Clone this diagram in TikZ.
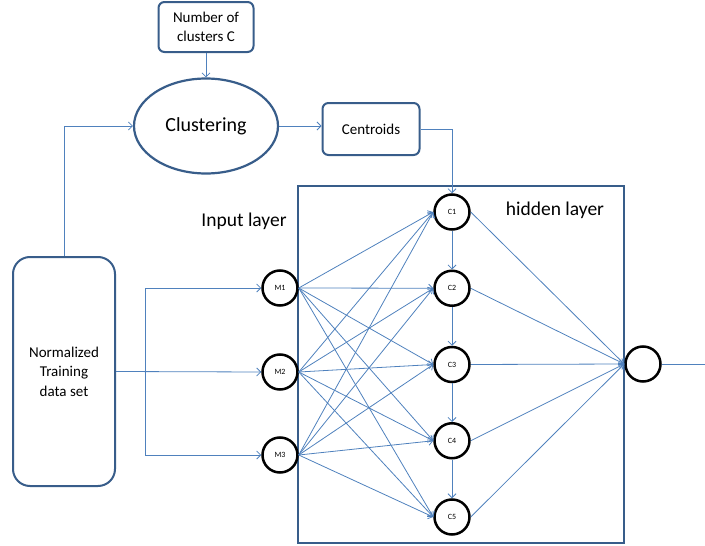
\documentclass[tikz,border=0pt]{standalone}
\usepackage{fontspec}
\setmainfont{Carlito}
\usetikzlibrary{positioning, arrows.meta, shapes.geometric}

\definecolor{boxblue}{RGB}{56,93,138}
\definecolor{lineblue}{RGB}{79,129,189}

\tikzset{
	flowbox/.style={draw=boxblue, line width=2pt, rounded corners=6pt, fill=white,
		align=center, inner sep=0pt, font=\fontsize{15}{19.5}\selectfont},
	neuron/.style={draw=black, circle, line width=2.5pt, minimum size=35pt,
		inner sep=0pt, fill=white, font=\fontsize{8}{9}\selectfont},
	link/.style={draw=lineblue, line width=0.8pt, -{Straight Barb[length=4pt, width=8pt]}},
	plain link/.style={draw=lineblue, line width=0.8pt},
	layer label/.style={font=\fontsize{19.5}{22}\selectfont, inner sep=0pt},
}

\begin{document}
\begin{tikzpicture}[x=1pt, y=-1pt]

		\useasboundingbox (0,0) rectangle (705,546);

		% Hidden layer frame.
		\node[draw=boxblue, line width=2.2pt, minimum width=326pt, minimum height=357pt,
			inner sep=0pt] (hidden box) at (461,364.5) {};
		\node[layer label] (hidden label) at (555,210) {hidden layer};
		\node[layer label] (input label) at (244,221) {Input layer};

		% CLUSTERING
		\node[flowbox, minimum width=95pt, minimum height=50pt] (clusters) at (206,27)
			{Number of\\clusters C};
		\node[draw=boxblue, line width=2.2pt, ellipse, fill=white, minimum width=144pt,
			minimum height=95pt, font=\fontsize{20}{24}\selectfont] (clustering) at (206,126)
			{Clustering};
		\node[flowbox, minimum width=97pt, minimum height=52pt] (centroids) at (371,129)
			{Centroids};
		\node[flowbox, rounded corners=17pt, minimum width=102pt, minimum height=229pt]
			(training) at (64,371.5) {Normalized\\Training\\data set};

		% INPUT LAYER
		\node[neuron] (M1) at (280,288) {M1};
		\node[neuron] (M2) at (280,372) {M2};
		\node[neuron] (M3) at (280,455) {M3};

		% HIDDEN LAYER
		\foreach \i in {1,...,5}{
			\node[neuron] (C\i) at (452,{212+76.25*(\i-1)}) {C\i};
		}

		% OUTPUT
		\node[neuron] (output) at (643,364) {};
		\coordinate (output end) at (705,364);

		% Connectors.
		\draw[link] (clusters) -- (clustering);
		\draw[link] (training.north) |- (clustering.west);
		\draw[link] (clustering.east) -- (clustering.east -| centroids.west);
		\draw[link] (centroids.east) -| (C1.north);

		\coordinate (split) at (145,372);
		\draw[link] (training.east) -- (M2.west);
		\draw[link] (split) |- (M1.west);
		\draw[link] (split) |- (M3.west);

		\foreach \m in {1,2,3}{
			\foreach \c in {1,...,5}{
				\draw[link] (M\m.east) -- (C\c.west);
			}
		}
		\foreach \i [evaluate=\i as \j using int(\i+1)] in {1,...,4}{
			\draw[link] (C\i.south) -- (C\j.north);
		}
		\foreach \c in {1,...,5}{
			\draw[link] (C\c.east) -- (output.west);
		}
		\draw[plain link] (output.east) -- (output end);

	\end{tikzpicture}
\end{document}
